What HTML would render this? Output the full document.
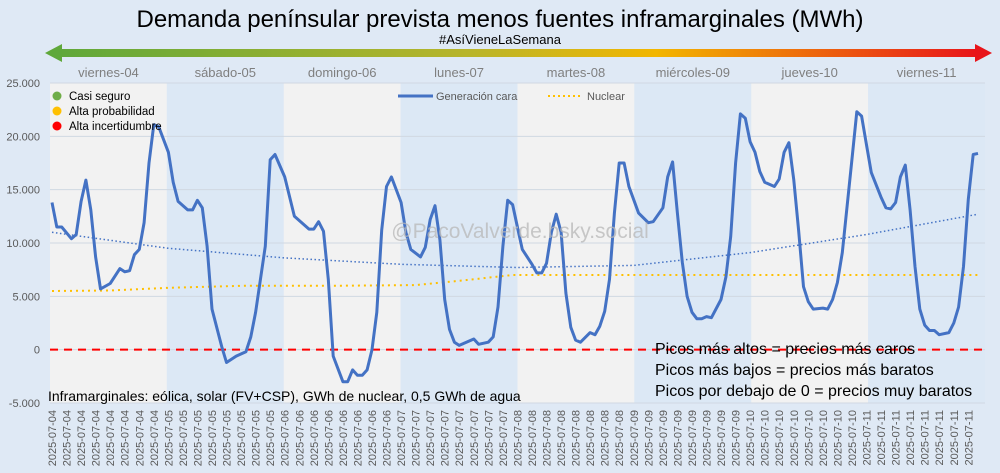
<!DOCTYPE html>
<html><head><meta charset="utf-8"><style>
body{margin:0;background:#dfe9f5;}
svg{display:block;font-family:"Liberation Sans","DejaVu Sans",sans-serif;}
</style></head><body>
<svg id="chart" width="1000" height="473" viewBox="0 0 1000 473" xmlns="http://www.w3.org/2000/svg">
<defs>
<linearGradient id="g" x1="0" x2="1" y1="0" y2="0">
<stop offset="0" stop-color="#5fa83a"/><stop offset="0.45" stop-color="#b9b52a"/><stop offset="0.65" stop-color="#f2b600"/><stop offset="1" stop-color="#e8141a"/>
</linearGradient>
</defs>
<rect width="1000" height="473" fill="#dfe9f5"/>
<text x="500" y="27" text-anchor="middle" font-size="24" fill="#000">Demanda penínsular prevista menos fuentes inframarginales (MWh)</text>
<text x="500" y="44" text-anchor="middle" font-size="13" fill="#000">#AsíVieneLaSemana</text>
<g>
<rect x="58" y="49" width="920" height="8" fill="url(#g)"/>
<polygon points="45,53 62,44 62,62" fill="#5fa83a"/>
<polygon points="992,53 975,44 975,62" fill="#e8141a"/>
</g>
<g id="bands"></g>
<g id="grid"></g>
<g id="yticks"></g>
<g id="xticks"></g>
<g id="series"></g>
<text x="520" y="238" text-anchor="middle" font-size="21" fill="#b8b8b8" opacity="0.75">@PacoValverde.bsky.social</text>
<g font-size="11.5" fill="#000">
<circle cx="57" cy="96" r="4.5" fill="#70ad47"/><text x="69" y="100">Casi seguro</text>
<circle cx="57" cy="111" r="4.5" fill="#ffc000"/><text x="69" y="115">Alta probabilidad</text>
<circle cx="57" cy="126" r="4.5" fill="#ff0000"/><text x="69" y="130">Alta incertidumbre</text>
</g>
<g font-size="11" fill="#595959">
<line x1="398" y1="96" x2="433" y2="96" stroke="#4472c4" stroke-width="3"/><text x="436" y="100">Generación cara</text>
<line x1="548" y1="96" x2="582" y2="96" stroke="#ffc000" stroke-width="2" stroke-dasharray="2,3"/><text x="587" y="100">Nuclear</text>
</g>
<text x="48" y="401" font-size="14" fill="#000">Inframarginales: eólica, solar (FV+CSP), GWh de nuclear, 0,5 GWh de agua</text>
<g font-size="16" fill="#000">
<text x="655" y="354">Picos más altos = precios más caros</text>
<text x="655" y="375">Picos más bajos = precios más baratos</text>
<text x="655" y="396">Picos por debajo de 0 = precios muy baratos</text>
</g>
</svg>
<script>
const days=["viernes-04","sábado-05","domingo-06","lunes-07","martes-08","miércoles-09","jueves-10","viernes-11"];
const dates=["2025-07-04","2025-07-05","2025-07-06","2025-07-07","2025-07-08","2025-07-09","2025-07-10","2025-07-11"];
const yTicks=[25000,20000,15000,10000,5000,0,-5000];
const yTickLabels=["25.000","20.000","15.000","10.000","5.000","0","-5.000"];
const hours=[0,1,2,4,5,6,7,8,9,10,12,14,15,16,17,18,19,20,21,22,24,25,26,28,29,30,31,32,33,35,36,38,40,41,42,44,45,46,48,50,53,54,55,56,57,58,60,61,62,63,64,65,66,67,68,69,70,72,73,74,76,77,78,79,80,81,82,83,84,87,88,90,91,92,93,94,95,96,97,99,100,101,102,103,104,105,106,107,108,109,111,112,113,114,115,116,117,118,119,121,123,124,126,127,128,129,130,131,132,133,134,135,136,138,139,140,141,142,143,144,145,146,147,149,150,151,152,153,154,155,156,157,159,160,161,162,163,165,166,167,168,169,171,172,173,174,175,176,177,178,179,180,181,182,183,185,186,187,188,189,190,191];
const generacion=[13.8,11.5,11.5,10.4,10.8,13.9,15.9,13.1,8.7,5.7,6.2,7.6,7.3,7.4,8.9,9.4,11.9,17.5,21.1,20.9,18.5,15.7,13.9,13.1,13.1,14.0,13.3,9.7,3.8,0.3,-1.2,-0.6,-0.2,1.2,3.5,9.7,17.8,18.3,16.2,12.5,11.3,11.3,12.0,11.1,6.6,-0.6,-3.0,-3.0,-1.9,-2.4,-2.4,-1.9,0,3.5,11.2,15.3,16.2,13.8,11.0,9.4,8.7,9.6,12.2,13.5,10.3,4.7,1.9,0.7,0.4,1.0,0.5,0.7,1.2,4.0,9.7,14.0,13.6,11.5,9.4,8.0,7.2,7.2,8.1,11.0,12.7,11.0,5.3,2.1,0.9,0.7,1.6,1.4,2.2,3.6,6.6,12.8,17.5,17.5,15.3,12.8,11.9,12.0,13.3,16.2,17.6,12.8,8.2,5.0,3.5,2.9,2.9,3.1,3.0,4.7,6.8,10.6,17.5,22.1,21.7,19.5,18.5,16.7,15.7,15.3,16.0,18.5,19.4,15.9,11.2,5.9,4.5,3.8,3.9,3.8,4.7,6.3,9.1,17.8,22.3,21.9,19.2,16.6,14.3,13.3,13.2,13.8,16.2,17.3,13.1,7.8,3.8,2.3,1.8,1.8,1.4,1.6,2.5,4.0,7.8,14.1,18.3,18.4];
const trendHours=[0,24,48,72,96,120,144,168,191];
const trendValues=[11.0,9.5,8.6,8.0,7.7,7.9,9.1,10.8,12.7];
const nuclearHours=[0,12,24,40,60,75,85,95,120,191];
const nuclearValues=[5.5,5.55,5.8,6.0,6.0,6.05,6.5,7.0,7.0,7.0];

const NS="http://www.w3.org/2000/svg";
const L=50,R=985,T=83,B=403;
const yMin=-5000,yMax=25000;
const y=v=>B-(v-yMin)/(yMax-yMin)*(B-T);
const x=h=>52+h*(978-52)/191;
function mk(tag,attrs,parent){const e=document.createElementNS(NS,tag);for(const k in attrs)e.setAttribute(k,attrs[k]);document.getElementById(parent).appendChild(e);return e;}
const dayW=(R-L)/8;
days.forEach((d,i)=>{
  const r=mk('rect',{x:L+i*dayW,y:T,width:dayW,height:B-T,fill:i%2?'#dce8f5':'#f2f2f2'},'bands');
  
  
  const t=mk('text',{x:L+i*dayW+dayW/2,y:77,'text-anchor':'middle','font-size':13,fill:'#7f7f7f'},'bands');
  t.textContent=d;
  
  
});
yTicks.forEach((v,i)=>{
  const g=mk('line',{x1:L,x2:R,y1:y(v),y2:y(v),stroke:'#d0d8e2','stroke-width':1},'grid');
  
  
  const t=mk('text',{x:40,y:y(v)+4,'text-anchor':'end','font-size':11,fill:'#595959'},'yticks');
  t.textContent=yTickLabels[i];
  
  
});
for(let h=0;h<192;h+=3){
  const t=mk('text',{transform:`translate(${x(h)+4},410) rotate(-90)`,'text-anchor':'end','font-size':11,fill:'#595959'},'xticks');
  t.textContent=dates[Math.floor(h/24)];
  
  
}
const z=mk('line',{x1:L,x2:R,y1:y(0),y2:y(0),stroke:'#ff0000','stroke-width':2,'stroke-dasharray':'8,6'},'series');


const pts=(hs,vs)=>hs.map((h,i)=>x(h).toFixed(1)+','+y(vs[i]*1000).toFixed(1)).join(' ');
const tr=mk('polyline',{points:pts(trendHours,trendValues),fill:'none',stroke:'#4472c4','stroke-width':1.5,'stroke-dasharray':'1.5,2.5'},'series');


const nu=mk('polyline',{points:pts(nuclearHours,nuclearValues),fill:'none',stroke:'#ffc000','stroke-width':2,'stroke-dasharray':'2,4'},'series');


const gl=mk('polyline',{points:pts(hours,generacion),fill:'none',stroke:'#4472c4','stroke-width':3,'stroke-linejoin':'round'},'series');


</script>
</body></html>
